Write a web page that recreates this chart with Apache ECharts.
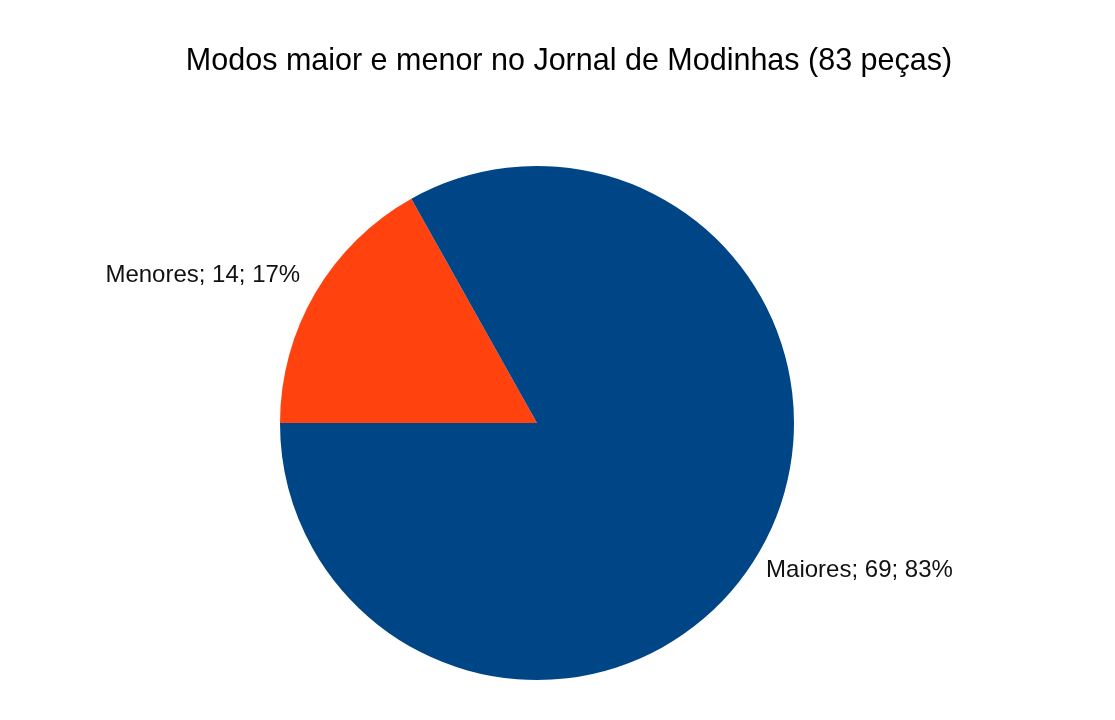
<!DOCTYPE html>
<html>
<head>
<meta charset="utf-8">
<script src="https://cdn.jsdelivr.net/npm/echarts@6/dist/echarts.min.js"></script>
<style>
  html, body { margin: 0; padding: 0; background: #fff; }
  #chart { width: 1115px; height: 720px; }
</style>
</head>
<body>
<div id="chart"></div>
<script>
// Major / minor mode counts in the Jornal de Modinhas
const categories = ['Menores', 'Maiores'];
const counts = [14, 69];
const colors = ['#ff420e', '#004586'];

// Outside label placement per slice (radial length, horizontal pull-back)
const labelLen = [36, 34];
const labelLen2 = [-16, -22];

const chart = echarts.init(document.getElementById('chart'));

chart.setOption({
  backgroundColor: '#ffffff',
  animation: false,
  title: {
    text: 'Modos maior e menor no Jornal de Modinhas (83 peças)',
    left: 564,
    top: 41,
    textAlign: 'center',
    textStyle: {
      fontFamily: 'Liberation Sans',
      fontSize: 30.5,
      fontWeight: 'normal',
      color: '#000000'
    }
  },
  series: [{
    type: 'pie',
    center: [537, 423],
    radius: 257,
    startAngle: 180,
    clockwise: true,
    avoidLabelOverlap: false,
    label: {
      show: true,
      position: 'outside',
      distanceToLabelLine: 0,
      formatter: p => p.name + '; ' + p.value + '; ' + Math.round(p.percent) + '%',
      fontFamily: 'Liberation Sans',
      fontSize: 24,
      color: '#111111'
    },
    labelLine: { show: false },
    emphasis: { disabled: true },
    itemStyle: { borderWidth: 0 },
    data: categories.map((name, i) => ({
      name: name,
      value: counts[i],
      itemStyle: { color: colors[i] },
      labelLine: { show: false, length: labelLen[i], length2: labelLen2[i] }
    }))
  }]
});
</script>
</body>
</html>
